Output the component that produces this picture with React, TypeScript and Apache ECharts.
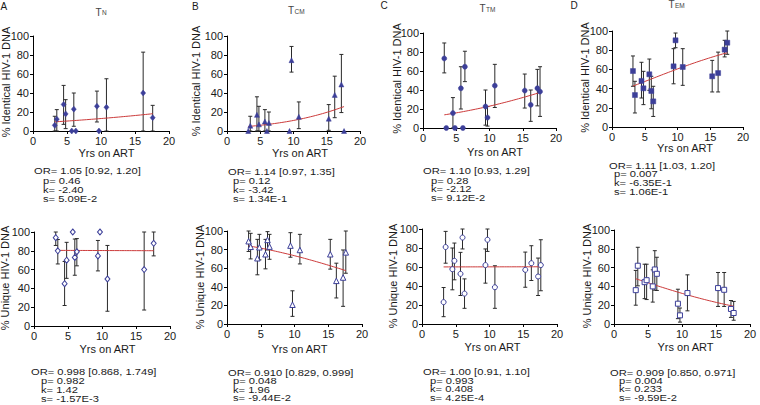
import React, { useEffect, useRef } from "react";
import * as echarts from "echarts";

// Years on ART for the 14 participants
const yrs = [3.2, 3.5, 4.5, 4.8, 5.7, 6.0, 6.3, 9.4, 9.7, 10.8, 15.3, 16.2, 17.2, 17.6];

// A – TN, % identical
const identTN = [6, 12.5, 28, 18, 0, 23, 0, 26, 0, 25, null, 40, null, 14];
const identTNLo = [0, 0, 7, 2.5, null, 5, null, 9.5, null, 0, null, 0, null, 0];
const identTNHi = [15.5, 22.5, 48, 33, null, 40, null, 42, null, 55, null, 83, null, 27];
// B – TCM, % identical
const identTCM = [0, 5.6, 17, 7, 10, 0, 8.5, 0, 74.6, 15, 13, 38, 49, 0];
const identTCMLo = [null, 0, 0, 0, 0, null, 0, null, 62, 2.5, 0.7, 14, 19.4, null];
const identTCMHi = [null, 15.5, 36, 26, 22.5, null, 20, null, 89, 30.6, 27.8, 57.7, 80.6, null];
// C – TTM, % identical
const identTTM = [73.2, 0, 15.7, 0, 41.8, 0, 64.5, 22.6, 11, 44.6, 39.4, 24.4, 41.8, 38.3];
const identTTMLo = [58, null, 0, null, 20, null, 48.8, 3, 2, 21.6, 21, 7, 23.3, 12.2];
const identTTMHi = [89.5, null, 32, null, 64.5, null, 80.8, 40, 22.6, 67, 56.8, 40, 61.7, 64.5];
// D – TEM, % identical
const identTEM = [58.3, 33.3, 48, 40.3, 54.9, 37.5, 26.7, 63.2, 90.3, 62.5, 52.8, 56.2, 80.6, 87.8];
const identTEMLo = [42.4, 14.6, 30.2, 23.3, 38.2, 19, 11, 45, 82.6, 43.4, 36.5, 36.5, 73, 75.7];
const identTEMHi = [74, 47.6, 67.4, 58, 70.8, 52.8, 42.4, 81.6, 97.9, 81.6, 69.4, 78, 90.3, 100];

// A – TN, % unique
const uniqTN = [94, 80, 45, 70, 100, 73, 79, 74.6, 100, 50, null, 60, null, 88];
const uniqTNLo = [85.7, 66, 21.8, 50.7, null, 54, 64, 58.6, null, 15.7, null, 17, null, 74.6];
const uniqTNHi = [100, 92, 68.6, 89, null, 92.5, 93, 91, null, 85.7, null, 100, null, 100];
// B – TCM, % unique
const uniqTCM = [89, 83, 70.7, 82.5, 75, 90.4, 83.2, 84.3, 20.7, 79.6, 75, 46.4, 50, 77];
const uniqTCMLo = [78, 70, 52.9, 69, 59.3, 79.6, 69.6, 71.8, 8.2, 64.6, 59, 28, 19, 54.6];
const uniqTCMHi = [100, 97.5, 91, 96.4, 91, 99.3, 96.4, 98.2, 35.7, 96.4, 91, 65.4, 79.6, 100];
// C – TTM, % unique
const uniqTTM = [23, 81, 57.7, 66.5, 52.8, 91, 32, 62, 88.7, 38.7, 57, 64, 50, 62];
const uniqTTMLo = [7.7, 64, 36, 46.5, 30, 79, 16.5, 43, 76.4, 16.5, 38.7, 45.8, 30, 35];
const uniqTTMHi = [38.4, 97.5, 80, 85.2, 75.4, 100, 47.5, 79, 100, 61.3, 75.7, 82.4, 69.4, 88.7];
// D – TEM, % unique
const uniqTEM = [36, 62, 44.5, 46.6, 40, 58, 53.4, 21.6, 9.2, 32.9, 38.2, 36.4, 16, 11.7];
const uniqTEMLo = [20, 40.6, 27, 26, 23.3, 36, 35.7, 5.7, 2, 14, 18.7, 18.7, 7, 4];
const uniqTEMHi = [57, 81.6, 63.6, 63.6, 57.6, 78, 71, 37, 17, 52.3, 54.8, 54.8, 25, 24];

// Model statistics (logit p = k + s * yrs)
const orText = [
  "OR= 1.05 [0.92, 1.20]",
  "OR= 1.14 [0.97, 1.35]",
  "OR= 1.10 [0.93, 1.29]",
  "OR= 1.11 [1.03, 1.20]",
  "OR= 0.998 [0.868, 1.749]",
  "OR= 0.910 [0.829, 0.999]",
  "OR= 1.00 [0.91, 1.10]",
  "OR= 0.909 [0.850, 0.971]",
];
const pText = ["0.46", "0.12", "0.28", "0.007", "0.982", "0.048", "0.993", "0.004"];
const kText = ["-2.40", "-3.42", "-2.12", "-6.35E-1", "1.42", "1.96", "0.408", "0.233"];
const sText = ["5.09E-2", "1.34E-1", "9.12E-2", "1.06E-1", "-1.57E-3", "-9.44E-2", "4.25E-4", "-9.59E-2"];

const panelLetters = ["A", "B", "C", "D"];
const subsetSubs = ["N", "CM", "TM", "EM"];
const yNames = ["% Identical HIV-1 DNA", "% Unique HIV-1 DNA"];
const xName = "Yrs on ART";

const FONT = "'Liberation Sans', Arial, Helvetica, sans-serif";
const BLUE = "#3c3f99";
const BAR = "#2a2a2a";
const RED = "#cc3b3b";
const TXT = "#1a1a1a";

const panels = [
  { y: identTN, lo: identTNLo, hi: identTNHi, sym: "diamond", size: [5, 6], open: false },
  { y: identTCM, lo: identTCMLo, hi: identTCMHi, sym: "triangle", size: 5, open: false },
  { y: identTTM, lo: identTTMLo, hi: identTTMHi, sym: "circle", size: 5, open: false },
  { y: identTEM, lo: identTEMLo, hi: identTEMHi, sym: "rect", size: 5, open: false },
  { y: uniqTN, lo: uniqTNLo, hi: uniqTNHi, sym: "diamond", size: [5, 6], open: true },
  { y: uniqTCM, lo: uniqTCMLo, hi: uniqTCMHi, sym: "triangle", size: 5.5, open: true },
  { y: uniqTTM, lo: uniqTTMLo, hi: uniqTTMHi, sym: "circle", size: 5, open: true },
  { y: uniqTEM, lo: uniqTEMLo, hi: uniqTEMHi, sym: "rect", size: 5, open: true },
];

const grids = [
  { left: 33, top: 36, width: 136, height: 95 },
  { left: 227, top: 36, width: 133, height: 95 },
  { left: 423, top: 33, width: 133, height: 95 },
  { left: 612, top: 31, width: 131, height: 96 },
  { left: 34, top: 232, width: 136, height: 94 },
  { left: 227, top: 231, width: 135, height: 93 },
  { left: 422, top: 229, width: 135, height: 95 },
  { left: 614, top: 230, width: 136, height: 94 },
];
const yNamePos = [[5.5, 82], [195.5, 81], [397, 78.5], [585, 77.5], [5, 278], [200, 277], [393, 276], [587, 276]];
const xNamePos = [[106.5, 153], [300, 153], [495, 151.5], [685, 148], [107.5, 349], [299.5, 349], [492.5, 346.7], [685.5, 346.7]];
// x of first line, x of following lines, centre y of each line
const statPos = [
  { x: 34, xi: 43, y: [170.5, 180, 189, 198] },
  { x: 228, xi: 233, y: [171, 180, 189, 198] },
  { x: 423, xi: 431, y: [170.7, 180, 188.5, 197.5] },
  { x: 609, xi: 614, y: [165.5, 173.5, 182.5, 191.5] },
  { x: 31, xi: 41, y: [371.7, 380.5, 389.5, 398.5] },
  { x: 228, xi: 233, y: [372, 380.5, 389, 397.5] },
  { x: 423, xi: 430, y: [371, 380, 388.5, 397] },
  { x: 610, xi: 619, y: [372, 380, 388.5, 397] },
];
const titlePos = [[101, 17], [296, 15.5], [487.5, 13.5], [676.5, 9.5]];
const letterPos = [[0.5, 6], [192, 6], [380.5, 5], [570.5, 5]];

function buildOption() {
  const xAxis: any[] = [];
  const yAxis: any[] = [];
  const series: any[] = [];
  const graphic: any[] = [];
  const axisCommon = {
    axisLine: { show: true, onZero: false, lineStyle: { color: "#000", width: 1 } },
    axisTick: { show: true, length: 3, lineStyle: { color: "#000", width: 1 } },
    splitLine: { show: false },
  };

  panels.forEach((p, i) => {
    xAxis.push({
      type: "value", gridIndex: i, min: 0, max: 20, interval: 5, ...axisCommon,
      axisLabel: { fontSize: 11, color: TXT, margin: 4, fontFamily: FONT },
    });
    yAxis.push({
      type: "value", gridIndex: i, min: 0, max: 100, interval: 20, ...axisCommon,
      axisLabel: { fontSize: 11, color: TXT, margin: 4, fontFamily: FONT },
    });

    const bars: number[][] = [];
    const pts: number[][] = [];
    yrs.forEach((x, j) => {
      if (p.y[j] != null) pts.push([x, p.y[j] as number]);
      if (p.lo[j] != null && p.hi[j] != null) bars.push([x, p.lo[j] as number, p.hi[j] as number]);
    });

    series.push({
      type: "custom", xAxisIndex: i, yAxisIndex: i, clip: false, z: 2,
      encode: { x: 0, y: [1, 2] },
      data: bars,
      renderItem: (params: any, api: any) => {
        const x = api.value(0);
        const a = api.coord([x, api.value(1)]);
        const b = api.coord([x, api.value(2)]);
        const w = 2;
        const st = { stroke: BAR, lineWidth: 1 };
        return {
          type: "group",
          children: [
            { type: "line", shape: { x1: a[0], y1: a[1], x2: b[0], y2: b[1] }, style: st },
            { type: "line", shape: { x1: a[0] - w, y1: a[1], x2: a[0] + w, y2: a[1] }, style: st },
            { type: "line", shape: { x1: b[0] - w, y1: b[1], x2: b[0] + w, y2: b[1] }, style: st },
          ],
        };
      },
    });

    // logistic model curve from printed k and s
    const k = Number(kText[i]);
    const s = Number(sText[i]);
    const xs = pts.map((d) => d[0]);
    const x0 = Math.min(...xs);
    const x1 = Math.max(...xs);
    const curve: number[][] = [];
    const n = 40;
    for (let t = 0; t <= n; t++) {
      const x = x0 + ((x1 - x0) * t) / n;
      curve.push([x, 100 / (1 + Math.exp(-(k + s * x)))]);
    }
    series.push({
      type: "line", xAxisIndex: i, yAxisIndex: i, data: curve, showSymbol: false,
      symbol: "none", lineStyle: { color: RED, width: 1 }, z: 3, silent: true,
    });

    series.push({
      type: "scatter", xAxisIndex: i, yAxisIndex: i, data: pts, clip: false, z: 4,
      symbol: p.sym, symbolSize: p.size,
      itemStyle: p.open
        ? { color: "#ffffff", borderColor: BLUE, borderWidth: 1, opacity: 1 }
        : { color: BLUE, borderColor: BLUE, borderWidth: 0.5, opacity: 1 },
    });

    // axis names
    graphic.push({
      type: "text", x: yNamePos[i][0], y: yNamePos[i][1], rotation: Math.PI / 2,
      style: { text: yNames[i < 4 ? 0 : 1], fontSize: 11, fontFamily: FONT, fill: TXT, align: "center", verticalAlign: "middle" },
    });
    graphic.push({
      type: "text", x: xNamePos[i][0], y: xNamePos[i][1],
      style: { text: xName, fontSize: 11, fontFamily: FONT, fill: TXT, align: "center", verticalAlign: "middle" },
    });

    // statistics: slightly condensed glyph boxes, widened to the reference width
    const sp = statPos[i];
    const lines = [orText[i], "p= " + pText[i], "k= " + kText[i], "s= " + sText[i]];
    lines.forEach((t, li) => {
      graphic.push({
        type: "text", x: li === 0 ? sp.x : sp.xi, y: sp.y[li], scaleX: 1.24, scaleY: 1.1,
        style: { text: t, fontSize: 9, lineHeight: 8, fontFamily: FONT, fill: TXT, align: "left", verticalAlign: "middle" },
      });
    });
  });

  // panel letters and subset titles
  panelLetters.forEach((L, i) => {
    graphic.push({
      type: "text", x: letterPos[i][0], y: letterPos[i][1],
      style: { text: L, fontSize: 10, fontFamily: FONT, fill: TXT, align: "left", verticalAlign: "middle" },
    });
    const sub = subsetSubs[i];
    const tW = 10 * 0.611;
    const subW = sub.length * 6.5 * 0.75;
    const left = titlePos[i][0] - (tW + subW) / 2;
    graphic.push({
      type: "text", x: left, y: titlePos[i][1],
      style: { text: "T", fontSize: 10, fontFamily: FONT, fill: "#444", align: "left", verticalAlign: "bottom" },
    });
    graphic.push({
      type: "text", x: left + tW + 0.3, y: titlePos[i][1] - 0.6,
      style: { text: sub, fontSize: 6.5, fontFamily: FONT, fill: "#444", align: "left", verticalAlign: "bottom" },
    });
  });

  return {
    animation: false,
    backgroundColor: "#ffffff",
    textStyle: { fontFamily: FONT },
    grid: grids.map((g) => ({ ...g, containLabel: false })),
    xAxis,
    yAxis,
    series,
    graphic,
  };
}

export default function App() {
  const ref = useRef<HTMLDivElement>(null);
  useEffect(() => {
    document.body.style.margin = "0";
    const chart = echarts.init(ref.current as HTMLDivElement, null, { renderer: "svg" });
    chart.setOption(buildOption() as any);
    return () => chart.dispose();
  }, []);
  return <div ref={ref} style={{ width: 760, height: 405 }} />;
}
